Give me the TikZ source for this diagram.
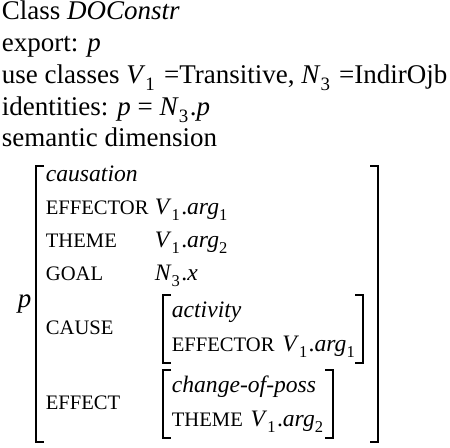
\documentclass[tikz,border=0pt]{standalone}
\usepackage{fontspec}
\setmainfont{Liberation Serif}
% subscripts, feature names and variables
\makeatletter
\newcommand{\lo}[1]{\raisebox{-0.24em}{\fontsize{\fpeval{0.7*\f@size}}{1}\selectfont #1}\kern0.06em}
\makeatother
\newcommand{\feat}[1]{{\fontsize{10.3}{12}\selectfont #1}}
\newcommand{\Vone}{\textit{V}\lo{1}}
\newcommand{\Nthree}{\textit{N}\lo{3}}
\newcommand{\argn}[1]{\Vone.\textit{arg}\lo{#1}}
\begin{document}
\begin{tikzpicture}[x=0.5pt, y=-0.5pt, line width=0.9pt,
    txt/.style={anchor=base west, inner sep=0pt, font=\fontsize{13.5}{16}\selectfont},
    avm/.style={anchor=base west, inner sep=0pt, font=\fontsize{11.8}{14}\selectfont}]
    \useasboundingbox (0,0) rectangle (450,448);

    % 1. Header lines
    \node[txt] (cls) at (1,20) {Class \textit{DOConstr}};
    \node[txt] (exp) at (1,52) {export: \textit{p}};
    \node[txt] (use) at (1,84) {use classes \Vone\hspace{0.28em}=Transitive, \Nthree\hspace{0.28em}=IndirOjb};
    \node[txt] (idt) at (1,116) {identities: \textit{p} = \Nthree.\textit{p}};
    \node[txt] (sem) at (1,147) {semantic dimension};

    % 2. Outer matrix of p
    \node[txt] (pvar) at (17,308) {\textit{p}};
    \draw (44,166) -- (36,166) -- (36,442) -- (44,442);
    \draw (370,166) -- (378,166) -- (378,442) -- (370,442);

    \node[avm] (caus) at (45,182) {\textit{causation}};
    \node[avm] (eff) at (45,215) {\feat{EFFECTOR}};
    \node[avm] (effv) at (154,215) {\argn{1}};
    \node[avm] (thm) at (45,248) {\feat{THEME}};
    \node[avm] (thmv) at (154,248) {\argn{2}};
    \node[avm] (goal) at (45,281) {\feat{GOAL}};
    \node[avm] (goalv) at (154,281) {\Nthree.\textit{x}};

    % 3. Inner matrix for CAUSE
    \node[avm] (cause) at (45,335) {\feat{CAUSE}};
    \draw (171,295) -- (163,295) -- (163,363) -- (171,363);
    \draw (355,295) -- (363,295) -- (363,363) -- (355,363);
    \node[avm] (act) at (171,318) {\textit{activity}};
    \node[avm] (acteff) at (171,352) {\feat{EFFECTOR}};
    \node[avm, xshift=3pt] (acteffv) at (acteff.base east) {\argn{1}};

    % 4. Inner matrix for EFFECT
    \node[avm] (effect) at (45,410) {\feat{EFFECT}};
    \draw (171,370) -- (163,370) -- (163,438) -- (171,438);
    \draw (325,370) -- (333,370) -- (333,438) -- (325,438);
    \node[avm] (poss) at (171,393) {\textit{change-of-poss}};
    \node[avm] (possthm) at (171,427) {\feat{THEME}};
    \node[avm, xshift=3pt] (possthmv) at (possthm.base east) {\argn{2}};
\end{tikzpicture}
\end{document}
